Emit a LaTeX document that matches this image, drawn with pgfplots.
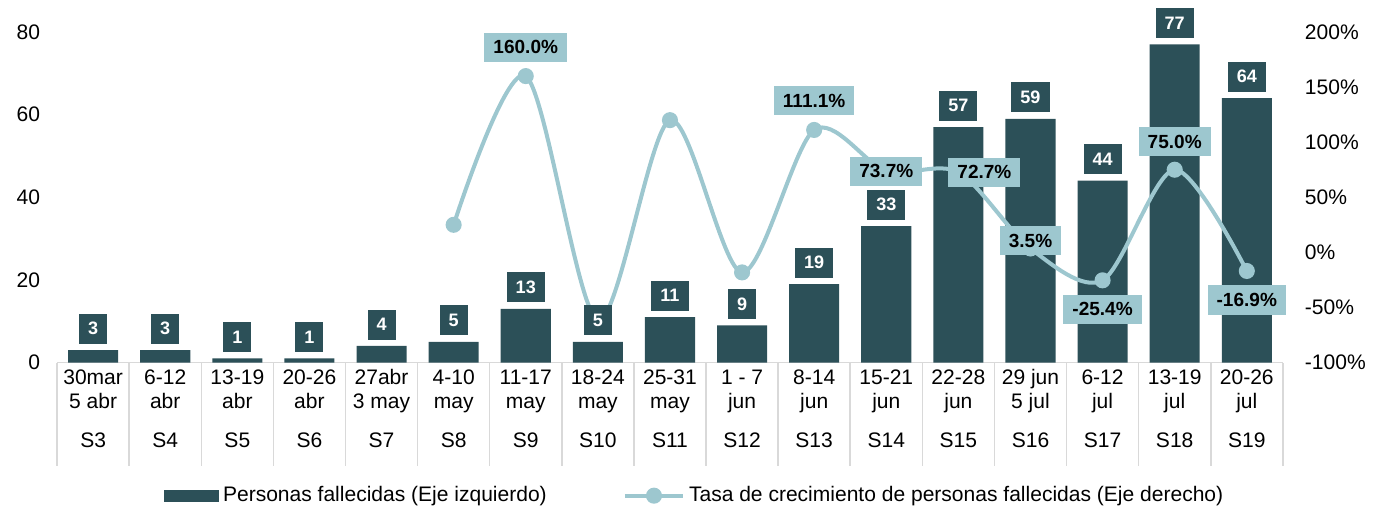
\documentclass[border=0pt]{standalone}
\usepackage{pgfplots}
\pgfplotsset{compat=1.18}
\usepackage{pgfplotstable}
\usepackage{fontspec}
\setmainfont{Liberation Sans}

\definecolor{barc}{HTML}{2C5058}
\definecolor{linec}{HTML}{9DC7CF}
\definecolor{sepc}{HTML}{D9D9D9}

% weekly deaths (left axis)
\pgfplotstableread{
x y
0 3
1 3
2 1
3 1
4 4
5 5
6 13
7 5
8 11
9 9
10 19
11 33
12 57
13 59
14 44
15 77
16 64
}\deaths

% growth rate in % (right axis)
\pgfplotstableread{
x y
5 25.0
6 160.0
7 -61.5
8 120.0
9 -18.2
10 111.1
11 73.7
12 72.7
13 3.5
14 -25.4
15 75.0
16 -16.9
}\rate

% labelled points of the rate, with label offsets (pt)
\pgfplotstableread{
x y lab dx dy
6 160.0 160.0 0 14.5
10 111.1 111.1 0 14.5
11 73.7 73.7 0 0
12 72.7 72.7 13 0
13 3.5 3.5 0 4
14 -25.4 -25.4 0 -14.5
15 75.0 75.0 0 14
16 -16.9 -16.9 0 -14.5
}\ratelab

\pgfplotsset{
  base/.style={
    scale only axis, width=612pt, height=165pt,
    xmin=-0.5, xmax=16.5,
    font=\fontsize{10.5}{12}\selectfont,
  },
}

\begin{document}
\begin{tikzpicture}
\begin{axis}[base, name=main,
    ymin=0, ymax=80, ytick={0,20,...,80}, yticklabels={0,20,40,60,80},
    axis x line*=bottom, axis y line*=left,
    y axis line style={draw=none}, ytick style={draw=none},
    x axis line style={draw=sepc, line width=0.75pt, -},
    xtick={0,...,16}, xtick style={draw=none},
    xticklabels={{30mar\\5 abr\\[7.5pt]S3},{6-12\\abr\\[7.5pt]S4},{13-19\\abr\\[7.5pt]S5},
      {20-26\\abr\\[7.5pt]S6},{27abr\\3 may\\[7.5pt]S7},{4-10\\may\\[7.5pt]S8},
      {11-17\\may\\[7.5pt]S9},{18-24\\may\\[7.5pt]S10},{25-31\\may\\[7.5pt]S11},
      {1 - 7\\jun\\[7.5pt]S12},{8-14\\jun\\[7.5pt]S13},{15-21\\jun\\[7.5pt]S14},
      {22-28\\jun\\[7.5pt]S15},{29 jun\\5 jul\\[7.5pt]S16},{6-12\\jul\\[7.5pt]S17},
      {13-19\\jul\\[7.5pt]S18},{20-26\\jul\\[7.5pt]S19}},
    xticklabel style={align=center, text depth=0pt},
    extra x ticks={-0.5,0.5,...,16.5}, extra x tick labels={},
    extra x tick style={xtick style={draw=sepc, line width=0.75pt},
      major tick length=51.5pt, tick align=outside},
    yticklabel style={xshift=-5pt},
]
\addplot[ybar, bar width=25pt, fill=barc, draw=none] table {\deaths};
\end{axis}

\begin{axis}[base,
    ymin=-100, ymax=200, ytick={-100,-50,...,200},
    yticklabels={-100\%,-50\%,0\%,50\%,100\%,150\%,200\%},
    axis y line*=right, hide x axis,
    y axis line style={draw=none}, ytick style={draw=none},
    yticklabel style={xshift=7.5pt},
    legend style={at={(0.521,-0.403)}, anchor=center, draw=none, fill=none,
      legend columns=2, font=\fontsize{10.5}{12}\selectfont,
      /tikz/every even column/.append style={column sep=36pt}},
    legend cell align=left,
]
\addlegendimage{legend image code/.code={\fill[barc] (0pt,-2.75pt) rectangle (27pt,2.75pt);}}
\addlegendentry{Personas fallecidas (Eje izquierdo)}
\addplot[linec, line width=2pt, smooth, mark=*, mark size=3pt,
    legend image code/.code={\draw[linec,line width=2pt] (0pt,0pt)--(29pt,0pt);
      \fill[linec] (14.5pt,0pt) circle (3pt);}] table {\rate};
\addlegendentry{Tasa de crecimiento de personas fallecidas (Eje derecho)}
\addplot[draw=none, mark=none, forget plot,
    point meta=explicit symbolic,
    visualization depends on={\thisrow{dx} \as \dx},
    visualization depends on={\thisrow{dy} \as \dy},
    nodes near coords={\pgfplotspointmeta\%},
    nodes near coords style={anchor=center, xshift=\dx pt, yshift=\dy pt,
      fill=linec, text=black, font=\fontsize{9.5}{11}\bfseries,
      minimum height=14.5pt, inner xsep=4.5pt, inner ysep=0pt},
] table[meta=lab] {\ratelab};
\end{axis}

\begin{axis}[base, hide axis, ymin=0, ymax=80]
\addplot[draw=none, mark=none,
    nodes near coords, nodes near coords align={vertical},
    /pgf/number format/assume math mode=true,
    nodes near coords style={anchor=south, yshift=3pt, fill=barc, text=white,
      font=\fontsize{9}{10}\bfseries, minimum height=15pt,
      inner xsep=4.5pt, inner ysep=0pt},
] table {\deaths};
\end{axis}

\pgfresetboundingbox
\path[use as bounding box] (main.south west) ++(-28.5pt,-73pt) rectangle ([shift={(51pt,16pt)}]main.north east);
\end{tikzpicture}
\end{document}
